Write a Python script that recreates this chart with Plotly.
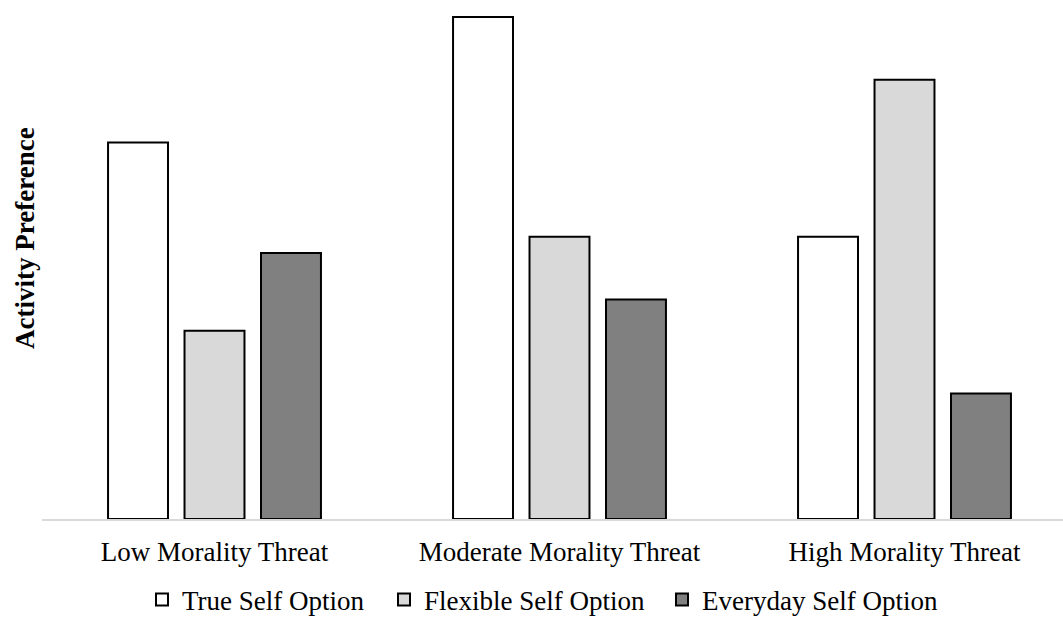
import plotly.graph_objects as go

categories = ["Low Morality Threat", "Moderate Morality Threat", "High Morality Threat"]
series_names = ["True Self Option", "Flexible Self Option", "Everyday Self Option"]
true_self = [3.00, 4.00, 2.25]
flexible_self = [1.50, 2.25, 3.50]
everyday_self = [2.12, 1.75, 1.00]
fill_colors = ["#FFFFFF", "#D9D9D9", "#808080"]
legend_ids = ["legend", "legend2", "legend3"]
legend_left_px = [142, 384, 662]

FONT = "Liberation Serif, Times New Roman, serif"
FS = 27
W, H = 1063, 618

fig = go.Figure()
for name, vals, col, lg in zip(series_names, [true_self, flexible_self, everyday_self], fill_colors, legend_ids):
    fig.add_trace(go.Bar(
        x=categories, y=vals, name=name, legend=lg,
        marker=dict(color=col, line=dict(color="#000000", width=2)),
    ))

legend_style = dict(orientation="h", xanchor="left", xref="container",
                    y=1 - 600 / H, yanchor="middle", yref="container",
                    bgcolor="rgba(0,0,0,0)", font=dict(family=FONT, size=FS), itemwidth=30)

fig.update_layout(
    width=W, height=H,
    margin=dict(l=42, r=0, t=0, b=99, autoexpand=False),
    paper_bgcolor="white", plot_bgcolor="white",
    barmode="group", bargap=0.335, bargroupgap=0.216,
    font=dict(family=FONT, size=FS, color="#000000"),
    showlegend=True,
    legend=dict(x=legend_left_px[0] / W, **legend_style),
    legend2=dict(x=legend_left_px[1] / W, **legend_style),
    legend3=dict(x=legend_left_px[2] / W, **legend_style),
    xaxis=dict(range=[-0.5, -0.5 + 1021 / 345], showline=True, linecolor="#D9D9D9", linewidth=2,
               ticks="", showgrid=False, automargin=False, ticklabelstandoff=8,
               tickfont=dict(family=FONT, size=FS)),
    yaxis=dict(range=[0, 519 / 125.5], showticklabels=False, showgrid=False, zeroline=False,
               showline=False, ticks="", automargin=False),
    annotations=[dict(text="<b>Activity Preference</b>", textangle=-90, xref="paper", yref="paper",
                      x=-42 / 1021 + 25 / 1021, y=(519 - 238) / 519, xanchor="center", yanchor="middle",
                      showarrow=False, font=dict(family=FONT, size=FS))],
)

fig.write_html("out.html")
